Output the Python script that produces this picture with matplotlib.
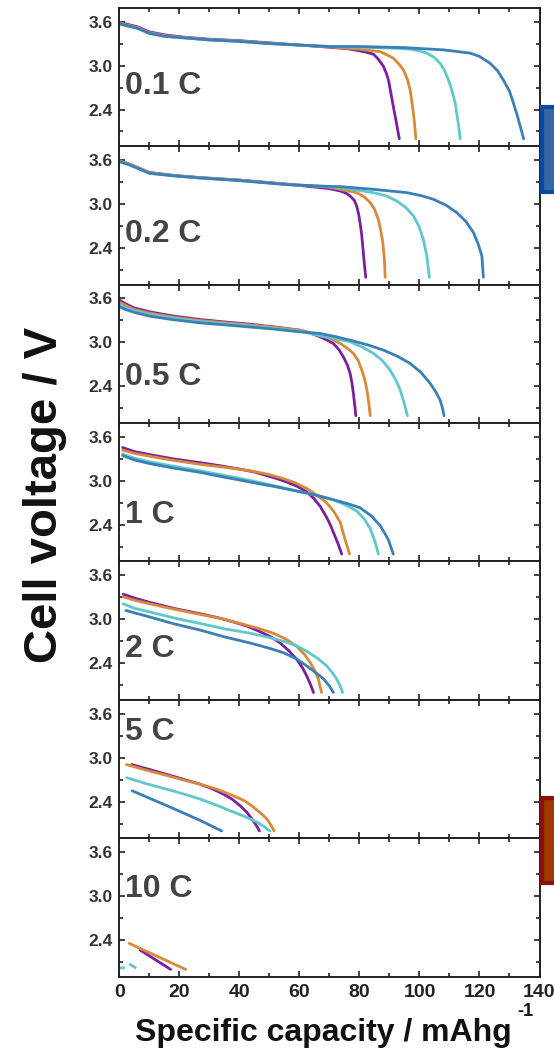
import numpy as np
import matplotlib
matplotlib.use("Agg")
import matplotlib.pyplot as plt
from matplotlib.patches import Rectangle
from matplotlib.ticker import MultipleLocator, FixedLocator, FormatStrFormatter

plt.rcParams['font.family'] = ['Liberation Sans', 'DejaVu Sans']
plt.rcParams['font.weight'] = 'bold'

# C-rates, one panel each (top to bottom)
rates = ["0.1 C", "0.2 C", "0.5 C", "1 C", "2 C", "5 C", "10 C"]
colors = ["#7B1FA0", "#D8893A", "#5FC8CD", "#3A80B6"]

# Discharge curves: capacity (mAh/g) and cell voltage (V), four samples per rate
cap_0p1C = [
    [0, 3, 6, 10, 15, 21, 30, 40, 50, 60, 70, 76, 80.2, 82.5, 84.7, 86.3, 88, 89, 89.7, 90.5, 91.3, 92.4, 93.3],
    [0, 3, 6, 10, 15, 21, 30, 40, 50, 60, 70, 80.2, 86.9, 89.5, 91.3, 93, 94.7, 96, 96.9, 97.5, 98, 98.5, 98.8],
    [0, 3, 6, 10, 15, 21, 30, 40, 50, 60, 70, 80.2, 90, 96.9, 100, 102.5, 105, 106.9, 108.4, 109.7, 110.9, 111.9, 112.8, 113.6],
    [0, 3, 6, 10, 15, 21, 30, 40, 50, 60, 70, 80.2, 95, 108, 112, 116.9, 120, 123.6, 126, 128, 130, 131.3, 132.5, 133.6, 134.7],
]
volt_0p1C = [
    [3.59, 3.56, 3.53, 3.46, 3.42, 3.39, 3.36, 3.34, 3.31, 3.28, 3.25, 3.23, 3.20, 3.18, 3.155, 3.087, 2.99, 2.89, 2.80, 2.62, 2.44, 2.20, 2.0],
    [3.58, 3.55, 3.52, 3.45, 3.41, 3.385, 3.355, 3.335, 3.305, 3.28, 3.255, 3.223, 3.19, 3.14, 3.10, 3.03, 2.94, 2.81, 2.668, 2.50, 2.35, 2.15, 2.0],
    [3.57, 3.54, 3.51, 3.44, 3.40, 3.38, 3.35, 3.33, 3.30, 3.28, 3.26, 3.25, 3.24, 3.224, 3.20, 3.169, 3.11, 3.03, 2.93, 2.80, 2.65, 2.49, 2.25, 2.0],
    [3.57, 3.54, 3.51, 3.44, 3.40, 3.38, 3.35, 3.33, 3.30, 3.28, 3.26, 3.26, 3.245, 3.214, 3.195, 3.169, 3.125, 3.03, 2.93, 2.80, 2.65, 2.49, 2.33, 2.17, 2.0],
]

cap_0p2C = [
    [0, 3, 6, 10, 18, 27, 40, 56, 70, 73.6, 75.5, 76.9, 78.3, 79.1, 79.7, 80.2, 80.7, 81.1, 81.6, 82.1],
    [0, 3, 6, 10, 18, 27, 40, 56, 70, 73.6, 79.1, 81.5, 83.6, 85, 86.3, 87.1, 87.8, 88.3, 88.6],
    [0, 3, 6, 10, 18, 27, 40, 56, 70, 73.6, 79, 84.7, 89, 92.5, 95.5, 98, 99.8, 101.3, 102.5, 103.3],
    [0, 3, 6, 10, 18, 27, 40, 56, 70, 73.6, 84.7, 95.8, 100.5, 104.7, 109, 112.5, 115.5, 118, 119.6, 120.8, 121.3],
]
volt_0p2C = [
    [3.59, 3.55, 3.50, 3.43, 3.39, 3.36, 3.327, 3.27, 3.21, 3.177, 3.15, 3.109, 3.05, 2.97, 2.87, 2.746, 2.60, 2.43, 2.20, 2.0],
    [3.59, 3.55, 3.50, 3.43, 3.39, 3.36, 3.327, 3.27, 3.23, 3.20, 3.155, 3.10, 3.019, 2.93, 2.79, 2.64, 2.473, 2.25, 2.0],
    [3.58, 3.54, 3.49, 3.42, 3.385, 3.355, 3.32, 3.265, 3.235, 3.223, 3.19, 3.155, 3.11, 3.04, 2.95, 2.836, 2.70, 2.518, 2.28, 2.0],
    [3.58, 3.54, 3.49, 3.42, 3.385, 3.355, 3.32, 3.265, 3.24, 3.237, 3.20, 3.155, 3.115, 3.064, 2.98, 2.88, 2.76, 2.61, 2.45, 2.29, 2.0],
]

cap_0p5C = [
    [0, 2, 5, 10.2, 18, 26.9, 35, 43.6, 52, 60.2, 63.5, 66.9, 69.3, 71.3, 73.2, 74.7, 76, 76.9, 77.5, 78, 78.5, 78.8],
    [0, 2, 5, 10.2, 18, 26.9, 35, 43.6, 52, 60.2, 66.9, 70.5, 73.6, 76, 78, 79.6, 80.8, 81.8, 82.5, 83.1, 83.6],
    [0, 2, 5, 10.2, 18, 26.9, 35, 43.6, 52, 60.2, 66.9, 72, 76.9, 81, 84.7, 87.7, 90.2, 92.1, 93.6, 95, 96],
    [0, 2, 5, 10.2, 18, 26.9, 35, 43.6, 52, 60.2, 66.9, 72, 76.9, 82.5, 88, 92.7, 96.9, 100.5, 103.6, 105.5, 106.9, 107.7, 108.2],
]
volt_0p5C = [
    [3.58, 3.53, 3.47, 3.417, 3.36, 3.313, 3.28, 3.249, 3.21, 3.167, 3.13, 3.076, 3.03, 2.986, 2.90, 2.80, 2.69, 2.577, 2.45, 2.30, 2.12, 2.0],
    [3.55, 3.51, 3.45, 3.40, 3.345, 3.30, 3.27, 3.24, 3.205, 3.167, 3.10, 3.05, 2.986, 2.92, 2.85, 2.75, 2.622, 2.49, 2.35, 2.18, 2.0],
    [3.52, 3.48, 3.43, 3.38, 3.33, 3.285, 3.255, 3.225, 3.19, 3.155, 3.09, 3.05, 3.008, 2.935, 2.85, 2.75, 2.622, 2.49, 2.35, 2.16, 2.0],
    [3.49, 3.45, 3.41, 3.358, 3.31, 3.267, 3.24, 3.21, 3.18, 3.144, 3.122, 3.08, 3.03, 2.97, 2.895, 2.81, 2.713, 2.59, 2.44, 2.32, 2.213, 2.10, 2.0],
]

cap_1C = [
    [1.1, 5, 10.2, 18, 26.9, 33, 40.2, 45, 49.1, 52.5, 55.8, 59.3, 62.4, 64.8, 66.9, 69.1, 70.3, 71.3, 72.8, 74.1],
    [1.1, 5, 10.2, 18, 26.9, 35, 43.6, 49.5, 54.7, 58.8, 62.4, 66, 69.1, 71.5, 73.6, 75.1, 76.7],
    [1.1, 5, 10.2, 18, 26.9, 35, 43.6, 52, 60.2, 66, 71.3, 75.5, 79.1, 81.6, 83.6, 85.2, 86.3],
    [1.1, 5, 10.2, 18, 26.9, 35, 43.6, 52, 60.2, 66, 71.3, 76, 80.2, 84, 86.9, 88.5, 89.7, 91.3],
]
volt_1C = [
    [3.455, 3.40, 3.358, 3.30, 3.248, 3.21, 3.16, 3.12, 3.072, 3.03, 2.984, 2.925, 2.852, 2.76, 2.654, 2.50, 2.40, 2.30, 2.15, 2.0],
    [3.42, 3.375, 3.336, 3.28, 3.226, 3.185, 3.138, 3.09, 3.03, 2.97, 2.897, 2.80, 2.70, 2.58, 2.435, 2.215, 2.0],
    [3.367, 3.31, 3.26, 3.20, 3.138, 3.075, 3.006, 2.93, 2.852, 2.80, 2.742, 2.67, 2.588, 2.48, 2.347, 2.17, 2.0],
    [3.345, 3.285, 3.235, 3.175, 3.116, 3.05, 2.984, 2.92, 2.852, 2.80, 2.742, 2.69, 2.633, 2.52, 2.39, 2.28, 2.19, 2.0],
]

cap_2C = [
    [1.3, 5, 10.2, 18, 26.9, 33, 38, 43, 46.9, 50.5, 53.6, 56.5, 59.1, 61, 62.4, 63.7, 64.7],
    [1.3, 5, 10.2, 18, 26.9, 34, 40.2, 46, 51.3, 55.5, 59.1, 61.7, 63.6, 65.1, 66.3, 67.4],
    [1.3, 5, 10.2, 18, 26.9, 35, 43.6, 49, 54.7, 59, 62.4, 66, 69.1, 71, 72.4, 73.6, 74.4],
    [2.2, 10.2, 18, 26.9, 35, 43.6, 49.5, 54.7, 59, 62.4, 65.5, 68, 70, 71.3],
]
volt_2C = [
    [3.343, 3.29, 3.23, 3.15, 3.076, 3.02, 2.964, 2.90, 2.83, 2.76, 2.676, 2.57, 2.453, 2.34, 2.23, 2.11, 2.0],
    [3.307, 3.26, 3.21, 3.14, 3.067, 3.01, 2.943, 2.88, 2.81, 2.73, 2.63, 2.52, 2.41, 2.30, 2.187, 2.0],
    [3.21, 3.15, 3.10, 3.02, 2.943, 2.87, 2.81, 2.76, 2.70, 2.64, 2.564, 2.47, 2.364, 2.27, 2.187, 2.09, 2.0],
    [3.12, 3.031, 2.94, 2.853, 2.76, 2.676, 2.61, 2.543, 2.46, 2.364, 2.27, 2.187, 2.09, 2.0],
]

cap_5C = [
    [4.1, 10, 15.8, 21, 26.9, 31, 34.7, 37.7, 40.2, 42.4, 44.1, 45.6, 46.7],
    [2.4, 9, 15.8, 21, 26.9, 32.5, 38, 41.8, 44.7, 47.2, 49.1, 50.5, 51.6],
    [2.4, 9, 15.8, 21, 26.9, 32.5, 38, 42.2, 45.8, 48.2, 50.2],
    [4.3, 15.8, 26.9, 34.1],
]
volt_5C = [
    [2.906, 2.84, 2.772, 2.71, 2.638, 2.575, 2.503, 2.43, 2.346, 2.26, 2.168, 2.08, 2.0],
    [2.906, 2.83, 2.758, 2.70, 2.638, 2.57, 2.48, 2.41, 2.325, 2.24, 2.168, 2.08, 2.0],
    [2.728, 2.645, 2.57, 2.51, 2.436, 2.35, 2.258, 2.19, 2.123, 2.06, 2.0],
    [2.548, 2.346, 2.145, 2.0],
]

cap_10C = [
    [6.9, 17.1],
    [3.3, 22.1],
    [0, 1.9, np.nan, 3.3, 6.3],
    [],
]
volt_10C = [
    [2.265, 2.0],
    [2.355, 2.0],
    [2.02, 2.02, np.nan, 2.075, 2.0],
    [],
]

caps = [cap_0p1C, cap_0p2C, cap_0p5C, cap_1C, cap_2C, cap_5C, cap_10C]
volts = [volt_0p1C, volt_0p2C, volt_0p5C, volt_1C, volt_2C, volt_5C, volt_10C]
label_y = [2.72, 2.59, 2.53, 2.54, 2.59, 3.35, 3.10]

W, H = 554, 1054
fig = plt.figure(figsize=(W / 100, H / 100), dpi=100)

left_px, right_px = 119.3, 539.5
top_px, bottom_px = 7.7, 976.7
panel_h = (bottom_px - top_px) / len(rates)

for i, rate in enumerate(rates):
    y0 = top_px + i * panel_h
    ax = fig.add_axes([left_px / W, 1 - (y0 + panel_h) / H,
                       (right_px - left_px) / W, panel_h / H])
    for j, (q, v) in enumerate(zip(caps[i], volts[i])):
        if len(q) == 0:
            continue
        ls = (0, (3, 2.2)) if (i == 6 and j == 2) else '-'
        ax.plot(q, v, color=colors[j], lw=2.0, ls=ls,
                solid_capstyle='round', solid_joinstyle='round')
    ax.set_xlim(0, 140)
    ax.set_ylim(1.90, 3.79)
    ax.xaxis.set_major_locator(MultipleLocator(20))
    ax.xaxis.set_minor_locator(MultipleLocator(10))
    ax.yaxis.set_major_locator(FixedLocator([2.4, 3.0, 3.6]))
    ax.yaxis.set_minor_locator(FixedLocator([2.1, 2.7, 3.3]))
    ax.yaxis.set_major_formatter(FormatStrFormatter('%.1f'))
    ax.tick_params(which='both', direction='in', top=True, right=True,
                   width=1.2, color='#222222')
    ax.tick_params(which='major', length=4.5)
    ax.tick_params(which='minor', length=3)
    ax.tick_params(axis='y', labelsize=12.5, pad=5, labelcolor='#333333')
    ax.tick_params(axis='x', labelsize=14, pad=5, labelcolor='#222222',
                   labelbottom=(i == len(rates) - 1))
    for lab in ax.get_xticklabels() + ax.get_yticklabels():
        lab.set_fontweight('bold')
    for s in ax.spines.values():
        s.set_linewidth(1.4)
        s.set_color('#222222')
    ax.text(1.8, label_y[i], rate, fontsize=23, fontweight='bold',
            color='#444444', va='center', ha='left')

fig.text(45 / W, 1 - 495 / H, "Cell voltage / V", rotation=90,
         fontsize=34, fontweight='bold', ha='center', va='center', color='#111111')
fig.text(323 / W, 1 - 1033 / H, "Specific capacity / mAhg", fontsize=23,
         fontweight='bold', ha='center', va='center', color='#111111')
fig.text(525 / W, 1 - 1012 / H, "-1", fontsize=13, fontweight='bold',
         ha='center', va='center', color='#111111')

# Edge markers of neighbouring figure elements
fig.add_artist(Rectangle((541.5 / W, 1 - 192 / H), 20 / W, 85 / H,
                         transform=fig.transFigure, facecolor='#3566A6',
                         edgecolor='#0B4A9A', linewidth=3))
fig.add_artist(Rectangle((541.5 / W, 1 - 883 / H), 20 / W, 85 / H,
                         transform=fig.transFigure, facecolor='#9C3A02',
                         edgecolor='#8A1010', linewidth=3))

fig.savefig("out.png", dpi=100, facecolor='white')
